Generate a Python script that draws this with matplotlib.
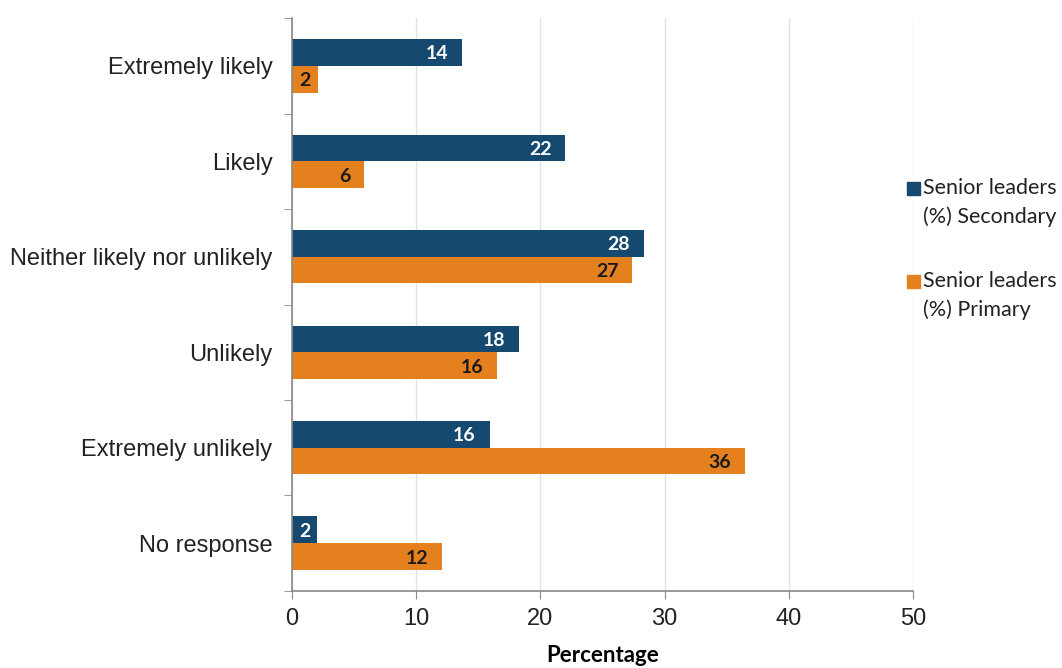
import matplotlib
matplotlib.use("Agg")
import matplotlib.pyplot as plt
from matplotlib.patches import Rectangle
import numpy as np

categories = ["Extremely likely", "Likely", "Neither likely nor unlikely",
              "Unlikely", "Extremely unlikely", "No response"]
secondary = [13.7, 22.0, 28.3, 18.3, 15.9, 2.0]
primary = [2.1, 5.8, 27.4, 16.5, 36.5, 12.1]
secondary_labels = ["14", "22", "28", "18", "16", "2"]
primary_labels = ["2", "6", "27", "16", "36", "12"]
series_names = ["Senior leaders\n(%) Secondary", "Senior leaders\n(%) Primary"]
xticks = [0, 10, 20, 30, 40, 50]

blue = "#15496f"
orange = "#e5801f"

fig = plt.figure(figsize=(10.62, 6.68), dpi=100)
ax = fig.add_axes([0.275, 0.1153, 0.5847, 0.8577])

n = len(categories)
y = np.arange(n)
h = 0.28
b1 = ax.barh(y - h / 2, secondary, height=h, color=blue, label=series_names[0])
b2 = ax.barh(y + h / 2, primary, height=h, color=orange, label=series_names[1])

for bars, labels, col in [(b1, secondary_labels, "white"), (b2, primary_labels, "#1a1a1a")]:
    for bar, lab in zip(bars, labels):
        w = bar.get_width()
        yc = bar.get_y() + bar.get_height() / 2
        if w < 4:
            ax.annotate(lab, xy=(w / 2, yc), ha="center", va="center_baseline",
                        color=col, fontsize=14, fontweight="bold", family="Lato")
        else:
            ax.annotate(lab, xy=(w, yc), xytext=(-10, 0), textcoords="offset points",
                        ha="right", va="center_baseline",
                        color=col, fontsize=14, fontweight="bold", family="Lato")

ax.set_ylim(n - 0.5, -0.5)
ax.set_xlim(0, 50)
ax.set_yticks(y)
ax.set_yticklabels(categories, family="Liberation Sans", fontsize=17, color="#222222")
ax.set_yticks(np.arange(n + 1) - 0.5, minor=True)
ax.tick_params(axis="y", which="major", length=0, pad=14)
ax.tick_params(axis="y", which="minor", length=6, color="#888888", direction="out")
ax.set_xticks(xticks)
ax.set_xticklabels([str(t) for t in xticks], family="Liberation Sans", fontsize=17, color="#222222")
ax.tick_params(axis="x", length=6, color="#888888", pad=6)

ax.grid(axis="x", color="#e3e3e3", linewidth=1)
ax.set_axisbelow(True)
for s in ["top", "right"]:
    ax.spines[s].set_visible(False)
for s in ["left", "bottom"]:
    ax.spines[s].set_color("#888888")
    ax.spines[s].set_linewidth(1.2)

ax.set_xlabel("Percentage", family="Lato", fontweight="bold", fontsize=16, labelpad=11)

# legend drawn in figure pixel coordinates
W, H = 1062, 668
legend_y = [188, 281]
for col, name, ly in zip([blue, orange], series_names, legend_y):
    fig.patches.append(Rectangle((907 / W, 1 - (ly + 6.5) / H), 13 / W, 13 / H,
                                 transform=fig.transFigure, color=col))
    fig.text(923 / W, 1 - (ly - 10) / H, name, ha="left", va="top", family="Lato",
             fontsize=15.5, color="#222222", linespacing=1.5)

fig.savefig("out.png", dpi=100)
